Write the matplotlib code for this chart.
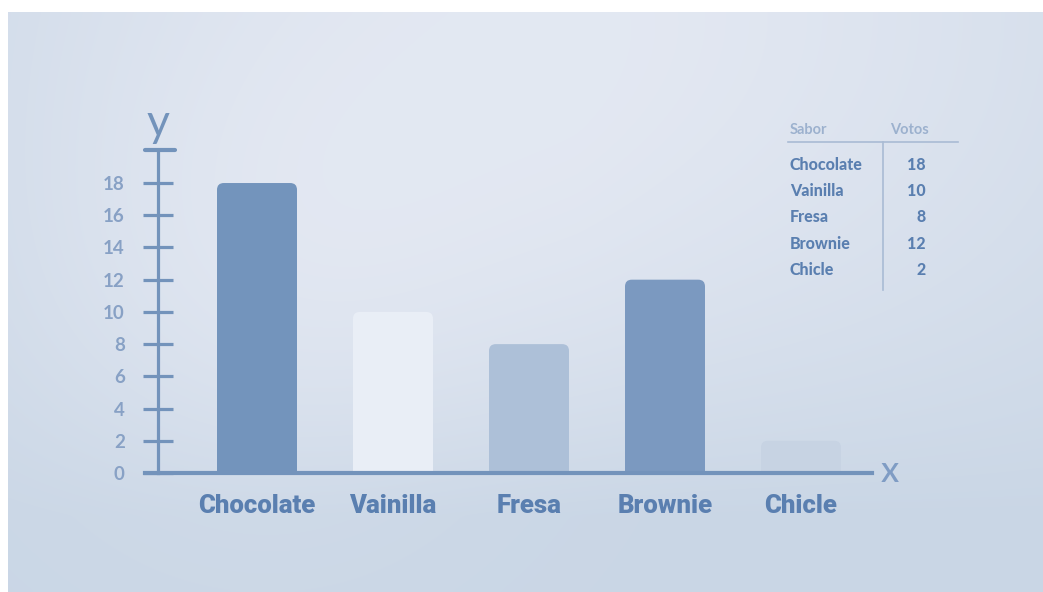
import matplotlib.pyplot as plt
import numpy as np
from matplotlib.patches import FancyBboxPatch

# Votes per ice-cream flavour
sabores = ["Chocolate", "Vainilla", "Fresa", "Brownie", "Chicle"]
votos = [18, 10, 8, 12, 2]
colores = ["#7394bc", "#e9eef6", "#adc0d8", "#7b99c0", "#c7d3e3"]
y_ticks = [0, 2, 4, 6, 8, 10, 12, 14, 16, 18]

W, H = 1043, 592
AXIS = "#7393bb"
TEXT = "#5a7fb0"
LIGHT = "#88a1c5"

BOLD_FONT = ["Roboto", "DejaVu Sans"]
BODY_FONT = ["Lato", "DejaVu Sans"]


def fx(px):
    return px / W


def fy(py):
    return 1 - py / H


fig = plt.figure(figsize=(W / 100, H / 100), dpi=100, facecolor="white")

# soft blue-grey backdrop with a faint glow on the left
bg = fig.add_axes([fx(8), 0, 1 - fx(8), 1 - 12 / H], zorder=0)
gx, gy = np.meshgrid(np.linspace(0, 1, 400), np.linspace(0, 1, 230))
c0 = np.array([0.79, 0.84, 0.90])
c1 = np.array([0.89, 0.91, 0.95])
t = np.clip(1 - (np.abs(gx - 0.55) * 1.3) ** 1.5, 0, 1) * np.clip(1 - (gy * 1.15) ** 2, 0, 1)
glow = np.exp(-(((gx - 0.25) / 0.25) ** 2 + ((gy - 0.5) / 0.45) ** 2)) * 0.35
t = np.clip(t + glow, 0, 1)
img = c0[None, None, :] * (1 - t[..., None]) + c1[None, None, :] * t[..., None]
bg.imshow(img, aspect="auto", extent=(0, 1, 1, 0), interpolation="bicubic")
bg.set_axis_off()

# main chart axes: y=0 sits at 473 px, one unit is 16.11 px, bars 136 px apart
y0_px, unit = 473, 16.11
left_px, right_px = 145, 872
x_step, x_first = 136, 257
top_val = (y0_px - 150) / unit
ax = fig.add_axes([fx(left_px), 1 - y0_px / H, (right_px - left_px) / W, top_val * unit / H], zorder=2)
ax.set_facecolor("none")
ax.set_xlim((left_px - x_first) / x_step, (right_px - x_first) / x_step)
ax.set_ylim(0, top_val)

x = np.arange(len(sabores))
bar_w = 80 / x_step
aspect = x_step / unit
for xi, v, c in zip(x, votos, colores):
    ax.add_patch(FancyBboxPatch((xi - bar_w / 2, -2), bar_w, v + 2,
                                boxstyle="round,pad=0,rounding_size=0.05",
                                mutation_aspect=aspect, fc=c, ec="none", zorder=2))

# axes and ticks
yaxis_x = (158 - x_first) / x_step
for s in ["top", "right"]:
    ax.spines[s].set_visible(False)
ax.spines["left"].set_position(("data", yaxis_x))
ax.spines["left"].set_color(AXIS)
ax.spines["left"].set_linewidth(2.3)
ax.spines["bottom"].set_color(AXIS)
ax.spines["bottom"].set_linewidth(3.0)
ax.spines["bottom"].set_zorder(4)
ax.set_yticks(y_ticks)
ax.set_yticklabels([str(v) for v in y_ticks], fontsize=13.5, fontweight="bold",
                   color=LIGHT, family=BODY_FONT)
ax.tick_params(axis="y", direction="inout", length=22, width=2.3, color=AXIS, pad=13)
ax.set_xticks(x)
ax.set_xticklabels(sabores, fontsize=18.5, fontweight="black", color=TEXT, family=BOLD_FONT)
ax.tick_params(axis="x", length=0, pad=15)

# cap on the y axis and the axis letters
ax.plot([(left_px - x_first) / x_step, (175 - x_first) / x_step], [top_val, top_val],
        color=AXIS, lw=3, solid_capstyle="round", clip_on=False, zorder=5)
fig.text(fx(158), fy(124), "y", fontsize=32, color=AXIS, ha="center", va="center",
         family=BODY_FONT, fontweight="normal")
fig.text(fx(890), fy(472), "x", fontsize=26, color="#7f9cc4", ha="center", va="center",
         family=BODY_FONT, fontweight="medium")

# vote table in the top-right corner
fig.text(fx(790), fy(130), "Sabor", fontsize=10.5, fontweight="bold", color="#9cb1ce",
         va="center", family=BODY_FONT)
fig.text(fx(890), fy(130), "Votos", fontsize=10.5, fontweight="bold", color="#9cb1ce",
         va="center", family=BODY_FONT)
fig.add_artist(plt.Line2D([fx(788), fx(958)], [fy(142), fy(142)], color="#a9bbd4", lw=1.2))
fig.add_artist(plt.Line2D([fx(883), fx(883)], [fy(142), fy(290)], color="#a9bbd4", lw=1.2))
for i, (s, v) in enumerate(zip(sabores, votos)):
    yy = fy(165 + i * 26.2)
    fig.text(fx(790), yy, s, fontsize=11.5, fontweight="black", color=TEXT, va="center",
             family=BODY_FONT)
    fig.text(fx(926), yy, str(v), fontsize=11.5, fontweight="black", color=TEXT, va="center",
             ha="right", family=BODY_FONT)

fig.savefig("out.png", dpi=100, facecolor="white")
